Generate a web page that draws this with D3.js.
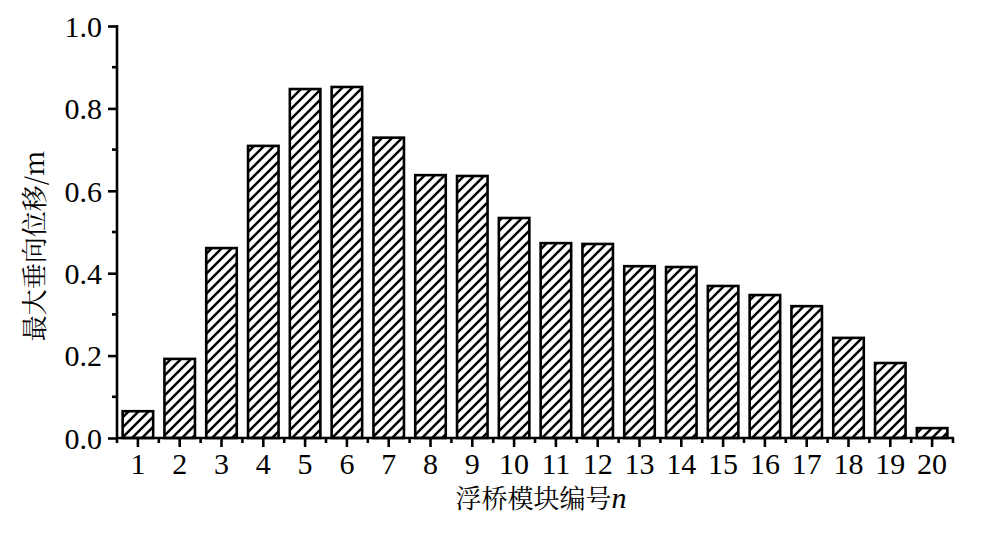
<!DOCTYPE html>
<html>
<head>
<meta charset="utf-8">
<script src="https://cdn.jsdelivr.net/npm/d3@7"></script>
<style>
  html, body { margin: 0; padding: 0; background: #fff; }
  svg { display: block; }
  .serif { font-family: "Liberation Serif", "Times New Roman", Times, "DejaVu Serif", serif; }
  .cjk { font-family: "Noto Serif CJK SC", "Noto Sans CJK SC", "Noto Sans CJK JP", sans-serif; }
</style>
</head>
<body>
<svg id="chart" width="987" height="542"></svg>
<script>
const categories = ["1","2","3","4","5","6","7","8","9","10","11","12","13","14","15","16","17","18","19","20"];
const values = [0.065, 0.192, 0.461, 0.709, 0.847, 0.852, 0.729, 0.638, 0.636, 0.534, 0.473, 0.471, 0.417, 0.415, 0.369, 0.347, 0.320, 0.243, 0.182, 0.024];
const yTicks = [0.0, 0.2, 0.4, 0.6, 0.8, 1.0];
const yMinorTicks = [0.1, 0.3, 0.5, 0.7, 0.9];
const yTitle = "最大垂向位移/m";
const xTitle = "浮桥模块编号";
const xTitleVar = "n";

(function () {
const svg = d3.select("#chart");
const mLeft = 117, mRight = 953, mTop = 26, mBottom = 438;

const x = d3.scaleBand().domain(categories).range([mLeft, mRight]).paddingInner(0.27).paddingOuter(0.135);
const xb = d3.scaleBand().domain(categories).range([mLeft, mRight]);
const y = d3.scaleLinear().domain([0, 1.0]).range([mBottom, mTop]);

const defs = svg.append("defs");
const P = 10;
const pat = defs.append("pattern").attr("id", "hatch").attr("patternUnits", "userSpaceOnUse")
  .attr("width", P).attr("height", P);
pat.append("rect").attr("width", P).attr("height", P).attr("fill", "#fff");
pat.append("path").attr("d", `M-1,${P + 1} L${P + 1},-1 M-3,3 L3,-3 M${P - 3},${P + 3} L${P + 3},${P - 3}`)
  .attr("stroke", "#000").attr("stroke-width", 2.5);

// bars
svg.append("g").selectAll("rect").data(values).join("rect")
  .attr("x", (d, i) => x(categories[i]))
  .attr("y", d => y(d))
  .attr("width", x.bandwidth())
  .attr("height", d => mBottom - y(d))
  .attr("fill", "url(#hatch)")
  .attr("stroke", "#000").attr("stroke-width", 2.6);

// y axis
const yAxis = svg.append("g").attr("transform", `translate(${mLeft},0)`)
  .call(d3.axisLeft(y).tickValues(yTicks).tickFormat(d3.format(".1f")).tickSize(9).tickPadding(6));
yAxis.attr("font-family", null).attr("font-size", null);
yAxis.select(".domain").remove();
yAxis.append("line").attr("x1", 0).attr("x2", 0).attr("y1", mTop - 1).attr("y2", mBottom + 1)
  .attr("stroke", "#000").attr("stroke-width", 2.6);
yAxis.selectAll(".tick line").attr("stroke-width", 2.6);
yAxis.selectAll(".tick text").attr("class", "serif").style("font-size", "30px").attr("fill", "#000").attr("dy", "0.34em");
yAxis.selectAll(".minor").data(yMinorTicks).join("line").attr("class", "minor")
  .attr("x1", -5).attr("x2", 0).attr("y1", d => y(d)).attr("y2", d => y(d))
  .attr("stroke", "#000").attr("stroke-width", 2.6);

// x axis
const xAxis = svg.append("g").attr("transform", `translate(0,${mBottom})`)
  .call(d3.axisBottom(xb).tickSize(9).tickPadding(6));
xAxis.attr("font-family", null).attr("font-size", null);
xAxis.select(".domain").remove();
xAxis.append("line").attr("x1", mLeft - 1).attr("x2", mRight + 1).attr("y1", 0).attr("y2", 0)
  .attr("stroke", "#000").attr("stroke-width", 2.6);
xAxis.selectAll(".tick line").attr("stroke-width", 2.6);
xAxis.selectAll(".tick text").attr("class", "serif").style("font-size", "30px").attr("fill", "#000");
const bounds = categories.map(c => xb(c)).concat([xb(categories[categories.length - 1]) + xb.bandwidth()]);
xAxis.selectAll(".minor").data(bounds).join("line").attr("class", "minor")
  .attr("x1", d => d).attr("x2", d => d).attr("y1", 0).attr("y2", 5)
  .attr("stroke", "#000").attr("stroke-width", 2.6);

// titles
const xt = svg.append("text").attr("x", 541).attr("y", 508).attr("text-anchor", "middle")
  .attr("class", "cjk").style("font-size", "26px").attr("fill", "#000");
xt.append("tspan").text(xTitle);
xt.append("tspan").attr("class", "serif").style("font-style", "italic").style("font-size", "30px").text(xTitleVar);

svg.append("text").attr("transform", "translate(44,246) rotate(-90)").attr("text-anchor", "middle")
  .attr("class", "cjk").style("font-size", "26px").attr("fill", "#000")
  .text(yTitle);
})();
</script>
</body>
</html>
